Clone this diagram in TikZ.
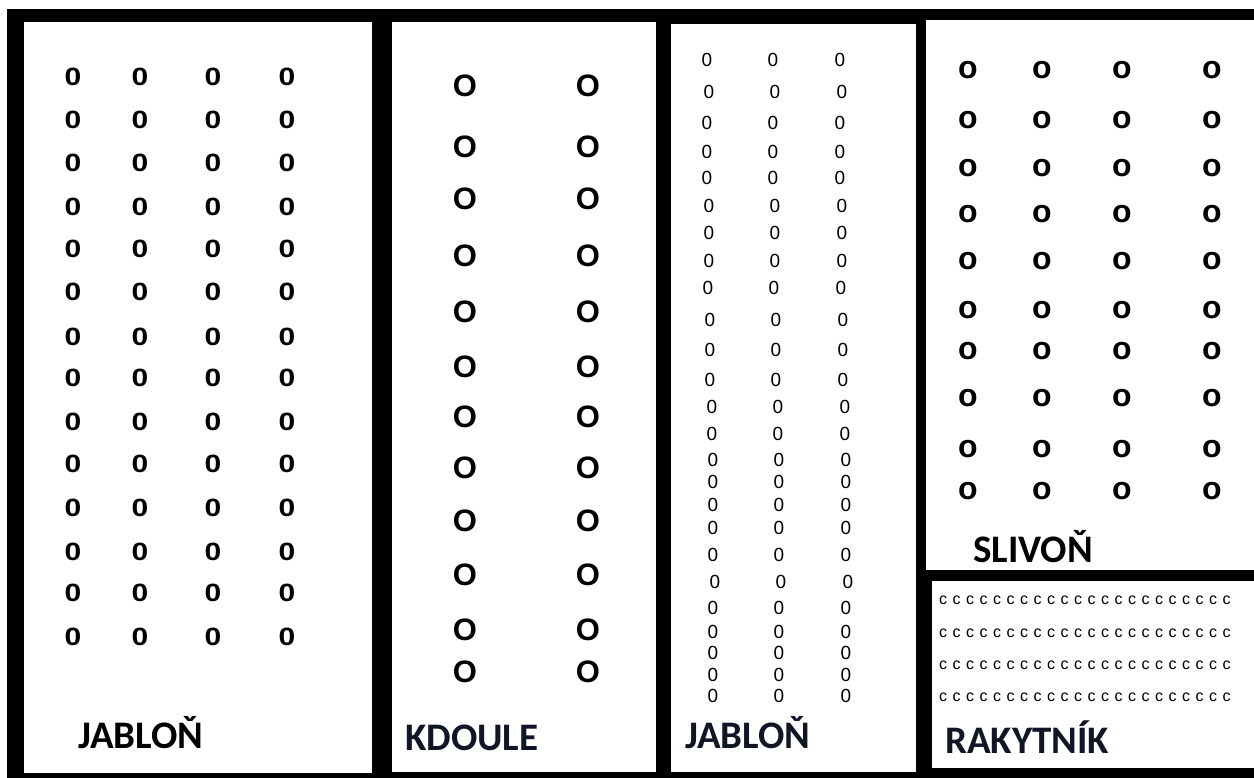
\documentclass[tikz,border=0pt]{standalone}
\usepackage{fontspec}
\usepackage{graphicx}
\setmainfont{Carlito}
\newfontfamily\libsans{Liberation Sans}
\definecolor{labelnavy}{RGB}{16,22,38}
\begin{document}
\begin{tikzpicture}[x=1pt,y=-1pt,
  panel/.style={fill=white},
  plotlabel/.style={font=\bfseries\fontsize{39}{40}\selectfont, anchor=base west, inner sep=0},
  markA/.style={font=\libsans\bfseries\fontsize{25}{25}\selectfont, inner sep=0},
  markB/.style={font=\libsans\bfseries\fontsize{31}{31}\selectfont, inner sep=0},
  markC/.style={font=\libsans\fontsize{19}{19}\selectfont, inner sep=0},
  markD/.style={font=\libsans\bfseries\fontsize{32}{32}\selectfont, inner sep=0},
  markE/.style={font=\libsans\fontsize{16}{16}\selectfont, inner sep=0}]
\useasboundingbox (0,0) rectangle (1254,778);
\fill[white] (0,0) rectangle (1254,778);
\fill[black] (7,9) rectangle (1254,778);
% panels
\fill[panel] (24,22) rectangle (372,773);
\fill[panel] (392,22) rectangle (656,772);
\fill[panel] (671,24) rectangle (916,772);
\fill[panel] (926,20) rectangle (1254,570);
\fill[panel] (932,581) rectangle (1254,768);
% panel 1: jablon
\foreach \y [count=\r] in {77,120,163,207,249,292,337,378,422,464,508,552,593,637}
  \foreach \x [count=\c] in {73,140,213,287}
    \node[markA] (a-\r-\c) at (\x,\y) {\scalebox{1.2}[1]{0}};
% panel 2: kdoule
\foreach \y [count=\r] in {86,147,199,256,312,367,417,468,521,575,630,672}
  \foreach \x [count=\c] in {465,588}
    \node[markB] (b-\r-\c) at (\x,\y) {O};
% panel 3: jablon
\foreach \y/\d [count=\r] in {60/0,92/2,123/0,152/0,178/0,206/2,233/2,261/2,288/1,320/3,350/3,380/3,407/5,434/5,460/6,482/6,505/6,528/6,555/6,582/8,608/6,632/6,653/6,675/6,696/6}
  \foreach \x [count=\c] in {707,773,840}
    \node[markC] (c-\r-\c) at ({\x+\d},\y) {0};
% panel 4: slivon
\foreach \y [count=\r] in {70,120,168,214,261,310,351,398,449,491}
  \foreach \x [count=\c] in {968,1042,1122,1212}
    \node[markD] (d-\r-\c) at (\x,\y) {o};
% panel 5: rakytnik
\foreach \y [count=\r] in {600,633,665,697}
  \foreach \i in {0,...,21}
    \node[markE] (e-\r-\i) at ({943+13.5*\i},\y) {c};
% labels
\node[plotlabel, text=black] (l1) at (78,748) {JABLOŇ};
\node[plotlabel, text=labelnavy] (l2) at (405,750) {KDOULE};
\node[plotlabel, text=labelnavy] (l3) at (685,748) {JABLOŇ};
\node[plotlabel, text=black] (l4) at (973,562) {SLIVOŇ};
\node[plotlabel, text=labelnavy] (l5) at (945,753) {RAKYTNÍK};
\end{tikzpicture}
\end{document}
